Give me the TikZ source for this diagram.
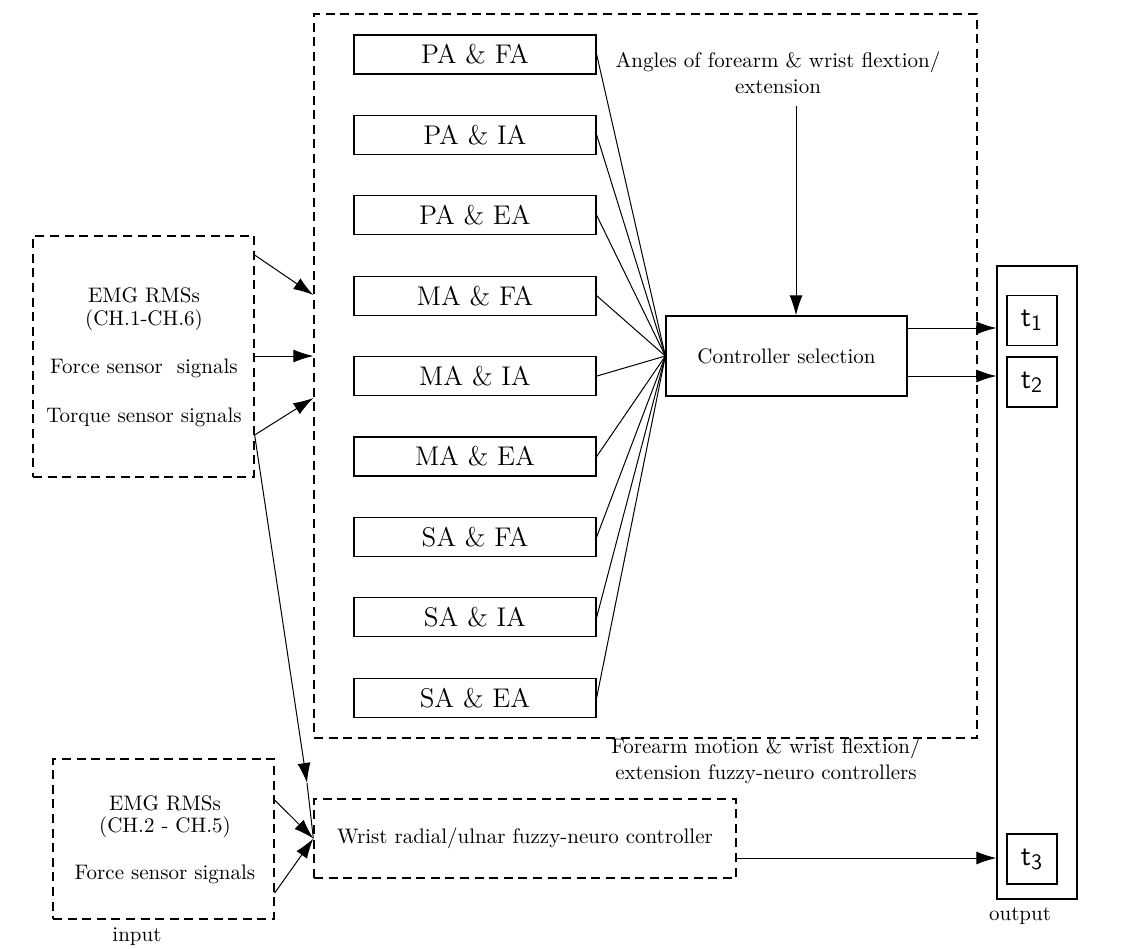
\documentclass[tikz,border=0pt]{standalone}
\usetikzlibrary{arrows.meta}
\tikzset{
  solidbox/.style={draw,line width=0.65pt,inner sep=0pt},
  dashbox/.style={draw,line width=0.65pt,dash pattern=on 4.5pt off 2.8pt,inner sep=0pt},
  armbox/.style={solidbox,minimum width=121pt,minimum height=19.5pt,font=\fontsize{13.5}{15}\selectfont},
  tbox/.style={solidbox,minimum width=25pt,minimum height=25pt,font=\fontsize{15}{17}\selectfont},
  txt/.style={inner sep=0pt,font=\fontsize{10.5}{13}\selectfont},
}
\begin{document}
\begin{tikzpicture}[x=0.5pt,y=-0.5pt,line width=0.5pt,>={Latex[length=10pt,width=6.5pt]}]
  \useasboundingbox (0,0) rectangle (1143,948);
  % forearm / wrist flexion block
  \node[dashbox,minimum width=331.5pt,minimum height=362pt] (fc) at (645.5,376) {};
  \foreach \a [count=\i from 0] in {PA,MA,SA} {
    \foreach \b [count=\j from 0] in {FA,IA,EA} {
      \pgfmathtruncatemacro\k{3*\i+\j}
      \node[armbox] (arm\k) at (475,{54.5+80.4*\k}) {\a\ \&\ \b};
    }
  }
  \node[solidbox,minimum width=120.5pt,minimum height=40pt,font=\fontsize{10.5}{13}\selectfont] (ctrl) at (786.5,356) {Controller selection};
  \foreach \k in {0,...,8} { \draw (arm\k.east) -- (ctrl.west); }
  \node[txt,align=center] (ang) at (778,73) {Angles of forearm \& wrist flextion/\\extension};
  \draw[->] (ang.south -| 796,0) ++(0,12) -- (ctrl.north -| 796,0);
  \node[txt,align=center] (fccap) at (766,761) {Forearm motion \& wrist flextion/\\extension fuzzy-neuro controllers};

  % output
  \node[solidbox,minimum width=40pt,minimum height=316.5pt] (out) at (1037,582.5) {};
  \node[tbox] (t1) at (1032,320.5) {$\mathsf{t}_{\mathsf{1}}$};
  \node[tbox] (t2) at (1032,382) {$\mathsf{t}_{\mathsf{2}}$};
  \node[tbox] (t3) at (1032,859) {$\mathsf{t}_{\mathsf{3}}$};
  \node[txt] (outlbl) at (1020,916) {output};
  \draw[->] (ctrl.east |- 0,328) -- (out.west |- 0,328);
  \draw[->] (ctrl.east |- 0,376) -- (out.west |- 0,376);

  % wrist radial / ulnar
  \node[dashbox,minimum width=211pt,minimum height=39.5pt,font=\fontsize{10.5}{13}\selectfont] (wr) at (525,838.5) {Wrist radial/ulnar fuzzy-neuro controller};
  \draw[->] (wr.east |- 0,858) -- (out.west |- 0,858);

  % inputs
  \node[dashbox,minimum width=110.5pt,minimum height=120.5pt] (emg1) at (143.5,356.5) {};
  \node[txt] (emg1a) at (144,295) {EMG RMSs};
  \node[txt] (emg1b) at (144,320) {(CH.1-CH.6)};
  \node[txt] (emg1c) at (144,368) {Force sensor\ \ signals};
  \node[txt] (emg1d) at (144,417) {Torque sensor signals};
  \node[dashbox,minimum width=110.5pt,minimum height=80pt] (emg2) at (163.5,839) {};
  \node[txt] (emg2a) at (165,803) {EMG RMSs};
  \node[txt] (emg2b) at (165,827) {(CH.2 - CH.5)};
  \node[txt] (emg2c) at (165,874) {Force sensor signals};
  \node[txt] (inlbl) at (137,937) {input};

  \draw[->] (emg1.east |- 0,255) -- (fc.west |- 0,295);
  \draw[->] (emg1.east |- 0,356) -- (fc.west |- 0,356);
  \draw[->] (emg1.east |- 0,435) -- (fc.west |- 0,398);
  \coordinate (tq) at (307,783);
  \draw[->] (emg1.east |- 0,435) -- (tq);
  \draw (tq) -- (wr.west);
  \draw[->] (emg2.east |- 0,800) -- (wr.west);
  \draw[->] (emg2.east |- 0,893) -- (wr.west);
\end{tikzpicture}
\end{document}
